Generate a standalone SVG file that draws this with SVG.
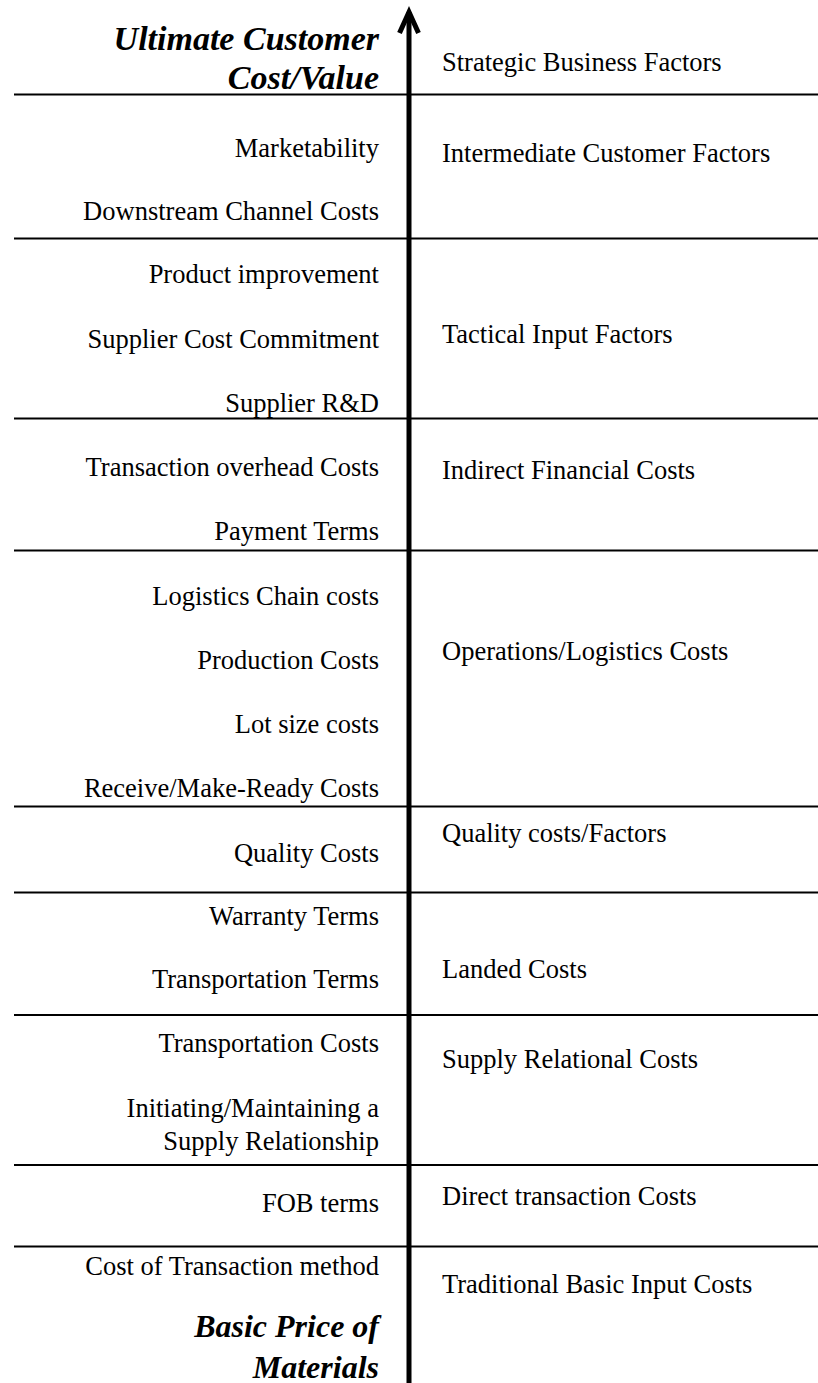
<svg xmlns="http://www.w3.org/2000/svg" width="818" height="1383" viewBox="0 0 818 1383">
  <style>
    .lbl { font-family: "Liberation Serif", "Times New Roman", serif; font-size: 26.5px; fill: #000; }
    .left { text-anchor: end; }
    .head { font-family: "Liberation Serif", "Times New Roman", serif; font-weight: bold; font-style: italic; fill: #000; text-anchor: end; }
    .rule { stroke: #000; stroke-width: 2; }
    .axis { stroke: #000; stroke-width: 5; fill: none; }
  </style>
  <rect width="818" height="1383" fill="#fff"/>

  <!-- horizontal band separators and the vertical axis -->
  <g id="connectors">
    <line class="rule" x1="14" y1="94.5" x2="818" y2="94.5"/>
    <line class="rule" x1="14" y1="238.5" x2="818" y2="238.5"/>
    <line class="rule" x1="14" y1="418.5" x2="818" y2="418.5"/>
    <line class="rule" x1="14" y1="550.5" x2="818" y2="550.5"/>
    <line class="rule" x1="14" y1="806.5" x2="818" y2="806.5"/>
    <line class="rule" x1="14" y1="892.5" x2="818" y2="892.5"/>
    <line class="rule" x1="14" y1="1015" x2="818" y2="1015"/>
    <line class="rule" x1="14" y1="1165" x2="818" y2="1165"/>
    <line class="rule" x1="14" y1="1246.5" x2="818" y2="1246.5"/>
    <line class="axis" x1="409" y1="12" x2="409" y2="1383"/>
    <polyline class="axis" stroke-width="4.5" stroke-linejoin="miter" points="399.5,33 409,12 418.5,33"/>
  </g>

  <!-- axis end labels -->
  <g id="top-heading">
    <text class="head" font-size="34" x="379" y="50">Ultimate Customer</text>
    <text class="head" font-size="34" x="379" y="89">Cost/Value</text>
  </g>
  <g id="bottom-heading">
    <text class="head" font-size="32" x="379" y="1337">Basic Price of</text>
    <text class="head" font-size="32" x="379" y="1378">Materials</text>
  </g>

  <!-- bands: cost items on the left, factor categories on the right -->
  <g id="band-strategic">
    <text class="lbl" x="442" y="71">Strategic Business Factors</text>
  </g>
  <g id="band-intermediate">
    <text class="lbl left" x="379" y="157">Marketability</text>
    <text class="lbl left" x="379" y="220">Downstream Channel Costs</text>
    <text class="lbl" x="442" y="162">Intermediate Customer Factors</text>
  </g>
  <g id="band-tactical">
    <text class="lbl left" x="379" y="283">Product improvement</text>
    <text class="lbl left" x="379" y="348">Supplier Cost Commitment</text>
    <text class="lbl left" x="379" y="412">Supplier R&amp;D</text>
    <text class="lbl" x="442" y="343">Tactical Input Factors</text>
  </g>
  <g id="band-indirect">
    <text class="lbl left" x="379" y="476">Transaction overhead Costs</text>
    <text class="lbl left" x="379" y="540">Payment Terms</text>
    <text class="lbl" x="442" y="479">Indirect Financial Costs</text>
  </g>
  <g id="band-operations">
    <text class="lbl left" x="379" y="605">Logistics Chain costs</text>
    <text class="lbl left" x="379" y="669">Production Costs</text>
    <text class="lbl left" x="379" y="733">Lot size costs</text>
    <text class="lbl left" x="379" y="797">Receive/Make-Ready Costs</text>
    <text class="lbl" x="442" y="660">Operations/Logistics Costs</text>
  </g>
  <g id="band-quality">
    <text class="lbl left" x="379" y="862">Quality Costs</text>
    <text class="lbl" x="442" y="842">Quality costs/Factors</text>
  </g>
  <g id="band-landed">
    <text class="lbl left" x="379" y="925">Warranty Terms</text>
    <text class="lbl left" x="379" y="988">Transportation Terms</text>
    <text class="lbl" x="442" y="978">Landed Costs</text>
  </g>
  <g id="band-relational">
    <text class="lbl left" x="379" y="1052">Transportation Costs</text>
    <text class="lbl left" x="379" y="1117">Initiating/Maintaining a</text>
    <text class="lbl left" x="379" y="1150">Supply Relationship</text>
    <text class="lbl" x="442" y="1068">Supply Relational Costs</text>
  </g>
  <g id="band-direct">
    <text class="lbl left" x="379" y="1212">FOB terms</text>
    <text class="lbl" x="442" y="1205">Direct transaction Costs</text>
  </g>
  <g id="band-traditional">
    <text class="lbl left" x="379" y="1275">Cost of Transaction method</text>
    <text class="lbl" x="442" y="1293">Traditional Basic Input Costs</text>
  </g>
</svg>
